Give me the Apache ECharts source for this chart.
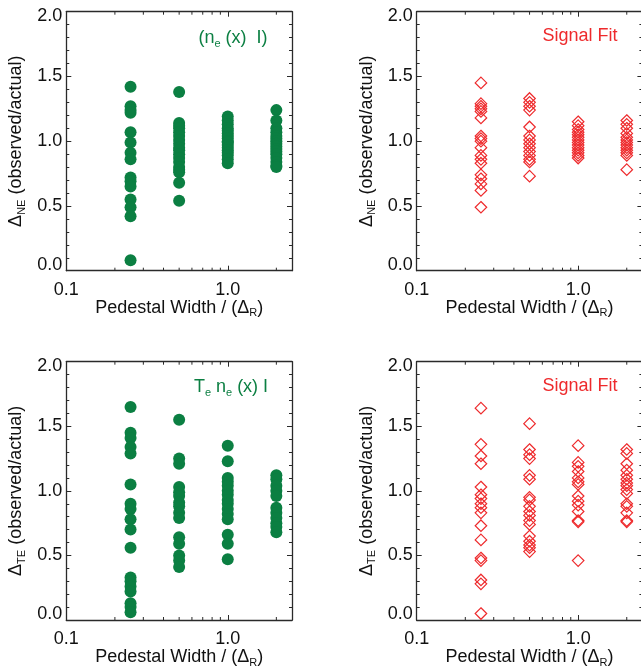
<!DOCTYPE html>
<html>
<head>
<meta charset="utf-8">
<script src="https://cdn.jsdelivr.net/npm/echarts@6/dist/echarts.min.js"></script>
<style>
html,body{margin:0;padding:0;background:#fff;}
#chart{width:641px;height:669px;}
</style>
</head>
<body>
<div id="chart"></div>
<script>
// ---- data ----
const widths = [0.25, 0.5, 1.0, 2.0];

// Panel A: Delta_NE, (n_e (x) I) – filled green circles
const neProf_w025 = [1.42, 1.27, 1.24, 1.22, 1.07, 0.99, 0.91, 0.86, 0.72, 0.69, 0.65, 0.55, 0.49, 0.42, 0.08];
const neProf_w050 = [1.38, 1.14, 1.12, 1.10, 1.07, 1.04, 1.01, 0.98, 0.95, 0.93, 0.90, 0.87, 0.84, 0.80, 0.78, 0.76, 0.68, 0.54];
const neProf_w100 = [1.19, 1.16, 1.13, 1.10, 1.08, 1.06, 1.04, 1.02, 1.00, 0.99, 0.97, 0.95, 0.93, 0.91, 0.89, 0.86, 0.83];
const neProf_w200 = [1.24, 1.16, 1.10, 1.07, 1.04, 1.02, 1.00, 0.98, 0.96, 0.94, 0.92, 0.90, 0.87, 0.84, 0.81, 0.80];

// Panel B: Delta_NE, Signal Fit – open red diamonds
const neFit_w025 = [1.45, 1.29, 1.27, 1.25, 1.23, 1.18, 1.04, 1.02, 1.00, 0.95, 0.89, 0.86, 0.83, 0.74, 0.71, 0.67, 0.62, 0.49];
const neFit_w050 = [1.33, 1.30, 1.27, 1.24, 1.11, 1.04, 1.01, 0.98, 0.95, 0.92, 0.89, 0.86, 0.84, 0.73];
const neFit_w100 = [1.15, 1.12, 1.09, 1.07, 1.05, 1.03, 1.01, 0.99, 0.97, 0.95, 0.93, 0.91, 0.89, 0.87];
const neFit_w200 = [1.16, 1.13, 1.10, 1.06, 1.03, 1.01, 0.99, 0.97, 0.95, 0.93, 0.91, 0.89, 0.78];

// Panel C: Delta_TE, (T_e n_e (x) I) – filled green circles
const teProf_w025 = [1.65, 1.45, 1.41, 1.34, 1.29, 1.05, 0.90, 0.86, 0.78, 0.70, 0.56, 0.33, 0.30, 0.26, 0.22, 0.13, 0.10, 0.06];
const teProf_w050 = [1.55, 1.25, 1.21, 1.03, 0.99, 0.96, 0.91, 0.88, 0.83, 0.79, 0.64, 0.59, 0.50, 0.46, 0.41];
const teProf_w100 = [1.35, 1.23, 1.10, 1.07, 1.04, 1.00, 0.97, 0.93, 0.90, 0.86, 0.82, 0.78, 0.66, 0.59, 0.47];
const teProf_w200 = [1.12, 1.09, 1.04, 1.00, 0.96, 0.87, 0.83, 0.79, 0.75, 0.72, 0.68];

// Panel D: Delta_TE, Signal Fit – open red diamonds
const teFit_w025 = [1.64, 1.36, 1.27, 1.21, 1.03, 0.97, 0.94, 0.90, 0.87, 0.83, 0.73, 0.62, 0.48, 0.46, 0.31, 0.28, 0.05];
const teFit_w050 = [1.52, 1.32, 1.28, 1.25, 1.12, 1.09, 0.95, 0.93, 0.88, 0.84, 0.81, 0.77, 0.74, 0.65, 0.61, 0.58, 0.56, 0.53];
const teFit_w100 = [1.35, 1.22, 1.19, 1.15, 1.10, 1.07, 1.05, 0.96, 0.92, 0.89, 0.84, 0.77, 0.76, 0.46];
const teFit_w200 = [1.32, 1.29, 1.21, 1.16, 1.12, 1.09, 1.06, 1.04, 1.01, 0.98, 0.90, 0.88, 0.83, 0.77, 0.76];

// axes
const xMin = 0.1, xMax = 2.5;
const yMin = 0, yMax = 2.0, yStep = 0.5;
const xTickLabels = [0.1, 1.0];
const xMinorTicks = [0.2, 0.3, 0.4, 0.5, 0.6, 0.7, 0.8, 0.9, 2.0];
const panelLabels = ['(n_e (x)  I)', 'Signal Fit', 'T_e n_e (x) I', 'Signal Fit'];
const yTitles = ['NE', 'NE', 'TE', 'TE'];

// ---- build ----
const GREEN = '#0b7f42';
const RED = '#ee2a2c';
const AX = '#2a2a2a';
const FONT = 'Liberation Sans, Arial, Helvetica, sans-serif';

function toPairs(arrs) {
  const out = [];
  arrs.forEach((a, i) => a.forEach(v => out.push([widths[i], v])));
  return out;
}
const panelData = [
  toPairs([neProf_w025, neProf_w050, neProf_w100, neProf_w200]),
  toPairs([neFit_w025, neFit_w050, neFit_w100, neFit_w200]),
  toPairs([teProf_w025, teProf_w050, teProf_w100, teProf_w200]),
  toPairs([teFit_w025, teFit_w050, teFit_w100, teFit_w200])
];

const gridPos = [
  {left: 66.3, top: 11.7, width: 225.7, height: 259},
  {left: 416.7, top: 11.7, width: 225.7, height: 259},
  {left: 66.3, top: 361.7, width: 225.7, height: 258.3},
  {left: 416.7, top: 361.7, width: 225.7, height: 258.3}
];

const richMain = {
  a: {fontSize: 18, fontFamily: FONT, color: '#111', lineHeight: 22},
  s: {fontSize: 11, fontFamily: FONT, color: '#111', lineHeight: 11, verticalAlign: 'bottom'}
};

const grid = [], xAxis = [], yAxis = [], series = [], graphic = [];

gridPos.forEach((g, i) => {
  grid.push(Object.assign({containLabel: false, outerBoundsMode: 'none'}, g));
  // bottom x axis
  xAxis.push({
    type: 'log', gridIndex: i, min: xMin, max: xMax, logBase: 10, position: 'bottom',
    axisLine: {show: true, onZero: false, lineStyle: {color: AX, width: 1.3}},
    axisTick: {show: true, inside: true, length: 5, lineStyle: {color: AX, width: 1}},
    splitLine: {show: false},
    axisLabel: {
      show: true, margin: 10, color: '#111', fontSize: 18, fontFamily: FONT,
      formatter: v => xTickLabels.some(t => Math.abs(t - v) < 1e-9) ? v.toFixed(1) : '',
      showMaxLabel: false
    },
    name: '{a|Pedestal Width / (Δ}{s|R}{a|)}',
    nameLocation: 'middle', nameGap: 26, nameMoveOverlap: false,
    nameTextStyle: {rich: richMain}
  });
  // top x axis (mirror)
  xAxis.push({
    type: 'log', gridIndex: i, min: xMin, max: xMax, logBase: 10, position: 'top',
    axisLine: {show: true, onZero: false, lineStyle: {color: AX, width: 1.3}},
    axisTick: {show: true, inside: true, length: 5, lineStyle: {color: AX, width: 1}},
    splitLine: {show: false}, axisLabel: {show: false}
  });
  // left y axis
  yAxis.push({
    type: 'value', gridIndex: i, min: yMin, max: yMax, interval: yStep, position: 'left',
    axisLine: {show: true, onZero: false, lineStyle: {color: AX, width: 1.3}},
    axisTick: {show: true, inside: true, length: 5, lineStyle: {color: AX, width: 1}},
    minorTick: {show: true, splitNumber: 5, length: 3, lineStyle: {color: AX, width: 1}},
    splitLine: {show: false}, minorSplitLine: {show: false},
    axisLabel: {
      show: true, margin: 4,
      formatter: v => v === yMin ? '{lo|' + v.toFixed(1) + '}' : (v === yMax ? '{hi|' + v.toFixed(1) + '}' : '{n|' + v.toFixed(1) + '}'),
      rich: {
        n: {fontSize: 18, fontFamily: FONT, color: '#111'},
        lo: {fontSize: 18, fontFamily: FONT, color: '#111', padding: [0, 0, 12, 0]},
        hi: {fontSize: 18, fontFamily: FONT, color: '#111', padding: [9, 0, 0, 0]}
      }
    },
    name: '{a|Δ}{s|' + yTitles[i] + '}{a| (observed/actual)}',
    nameLocation: 'middle', nameGap: 39, nameRotate: 90, nameMoveOverlap: false,
    nameTextStyle: {rich: richMain}
  });
  // right y axis (mirror)
  yAxis.push({
    type: 'value', gridIndex: i, min: yMin, max: yMax, interval: yStep, position: 'right',
    axisLine: {show: true, onZero: false, lineStyle: {color: AX, width: 1.3}},
    axisTick: {show: true, inside: true, length: 5, lineStyle: {color: AX, width: 1}},
    minorTick: {show: true, splitNumber: 5, length: 3, lineStyle: {color: AX, width: 1}},
    splitLine: {show: false}, axisLabel: {show: false}
  });

  const isFit = (i % 2 === 1);
  series.push({
    type: 'scatter', xAxisIndex: 2 * i, yAxisIndex: 2 * i,
    data: panelData[i],
    symbol: isFit ? 'diamond' : 'circle',
    symbolSize: isFit ? 11.5 : 12,
    itemStyle: isFit
      ? {color: 'rgba(0,0,0,0)', borderColor: RED, borderWidth: 1.2, opacity: 1}
      : {color: GREEN, opacity: 1},
    emphasis: {disabled: true},
    z: 3
  });
  // log minor ticks on bottom and top axes
  series.push({
    type: 'custom', xAxisIndex: 2 * i, yAxisIndex: 2 * i,
    data: xMinorTicks.map(v => [v]),
    encode: {x: 0},
    silent: true, clip: false,
    renderItem: function (params, api) {
      const x = api.value(0);
      const b = api.coord([x, yMin]);
      const t = api.coord([x, yMax]);
      const st = {stroke: AX, lineWidth: 1};
      return {
        type: 'group',
        children: [
          {type: 'line', shape: {x1: b[0], y1: b[1], x2: b[0], y2: b[1] - 3}, style: st},
          {type: 'line', shape: {x1: t[0], y1: t[1], x2: t[0], y2: t[1] + 3}, style: st}
        ]
      };
    },
    z: 2
  });
});

// panel annotations
function richLabel(str) {
  const parts = str.split(/(_[a-zA-Z])/);
  return parts.filter(p => p.length).map(p => p[0] === '_' ? '{s|' + p.slice(1) + '}' : '{a|' + p + '}').join('');
}
const annPos = [[233, 38], [580, 36], [231, 387], [580, 386]];
panelLabels.forEach((lab, i) => {
  const color = (i % 2 === 1) ? RED : GREEN;
  graphic.push({
    type: 'text', x: annPos[i][0], y: annPos[i][1], silent: true, z: 10,
    style: {
      text: richLabel(lab),
      align: 'center', verticalAlign: 'middle',
      rich: {
        a: {fontSize: 18, fontFamily: FONT, fill: color, color: color, lineHeight: 22},
        s: {fontSize: 11, fontFamily: FONT, fill: color, color: color, lineHeight: 11, verticalAlign: 'bottom'}
      }
    }
  });
});

const chart = echarts.init(document.getElementById('chart'), null, {renderer: 'canvas'});
chart.setOption({
  backgroundColor: '#fff',
  animation: false,
  grid: grid,
  xAxis: xAxis,
  yAxis: yAxis,
  series: series,
  graphic: graphic
});
</script>
</body>
</html>
